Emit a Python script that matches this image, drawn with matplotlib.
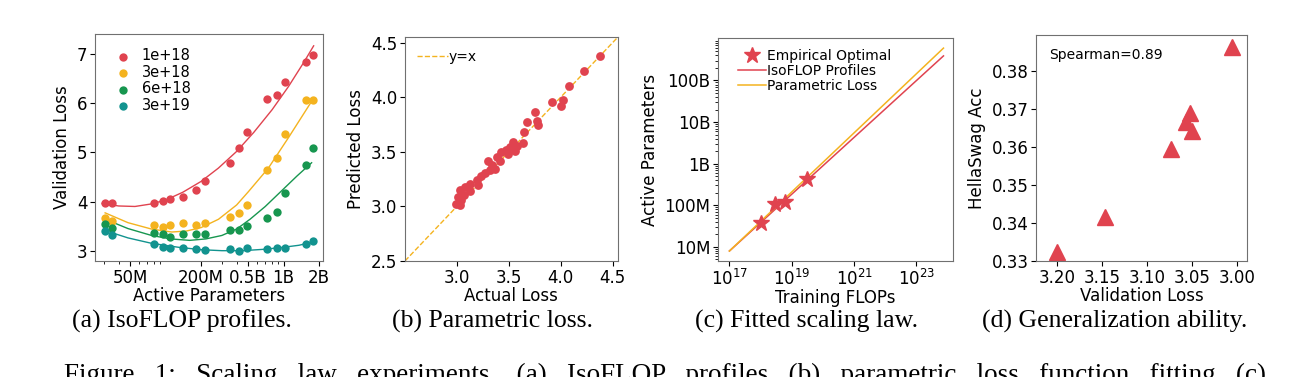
import matplotlib.pyplot as plt
import numpy as np

plt.rcParams['font.family'] = 'DejaVu Sans'
plt.rcParams['axes.edgecolor'] = '#707070'

red = '#E0434F'
yellow = '#F4B31F'
green = '#17964F'
teal = '#12938F'

# (a) IsoFLOP profiles
budgets = ['1e+18', '3e+18', '6e+18', '3e+19']
colors_a = [red, yellow, green, teal]
params = [30.9e6, 35e6, 79e6, 95e6, 110e6, 141e6, 180e6, 214e6,
          350e6, 420e6, 486e6, 730e6, 880e6, 1.03e9, 1.56e9, 1.77e9]
loss_1e18 = [3.98, 3.97, 3.98, 4.02, 4.05, 4.10, 4.24, 4.41,
             4.78, 5.10, 5.42, 6.08, 6.16, 6.44, 6.84, 6.99]
loss_3e18 = [3.66, 3.61, 3.52, 3.48, 3.52, 3.57, 3.52, 3.57,
             3.69, 3.77, 3.92, 4.64, 4.89, 5.37, 6.06, 6.06]
loss_6e18 = [3.54, 3.47, 3.37, 3.33, 3.27, 3.33, 3.33, 3.33,
             3.43, 3.43, 3.50, 3.66, 3.79, 4.17, 4.75, 5.09]
loss_3e19 = [3.40, 3.31, 3.14, 3.08, 3.05, 3.06, 3.03, 3.01,
             3.03, 3.00, 3.05, 3.04, 3.06, 3.05, 3.14, 3.20]

fit_x_1e18 = [29e6, 40e6, 55e6, 75e6, 100e6, 140e6, 200e6, 280e6, 400e6, 560e6, 800e6, 1.1e9, 1.5e9, 1.8e9]
fit_y_1e18 = [3.96, 3.91, 3.90, 3.95, 4.03, 4.19, 4.41, 4.68, 5.02, 5.41, 5.87, 6.34, 6.85, 7.17]
fit_x_3e18 = [30.7e6, 48e6, 76e6, 113e6, 150e6, 200e6, 281e6, 400e6, 503e6, 743e6, 1.1e9, 1.73e9]
fit_y_3e18 = [3.77, 3.57, 3.44, 3.38, 3.40, 3.47, 3.64, 3.93, 4.20, 4.68, 5.30, 6.04]
fit_x_6e18 = [30.7e6, 48e6, 76e6, 110e6, 160e6, 220e6, 300e6, 400e6, 520e6, 700e6, 964e6, 1.3e9, 1.73e9]
fit_y_6e18 = [3.64, 3.45, 3.31, 3.24, 3.21, 3.24, 3.31, 3.44, 3.64, 3.90, 4.22, 4.52, 4.79]
fit_x_3e19 = [30.7e6, 48e6, 76e6, 128e6, 200e6, 300e6, 450e6, 700e6, 1.0e9, 1.35e9, 1.73e9]
fit_y_3e19 = [3.41, 3.26, 3.15, 3.07, 3.02, 3.00, 3.00, 3.03, 3.07, 3.11, 3.17]

# (b) Parametric loss
actual = [4.375, 4.221, 4.078, 3.911, 4.023, 4.001, 3.748, 3.671, 3.767, 3.783,
          3.649, 3.544, 3.639, 3.582, 3.512, 3.560, 3.470, 3.496, 3.426, 3.390,
          3.412, 3.297, 3.336, 3.368, 3.314, 3.272, 3.234, 3.192, 3.201, 3.128,
          3.074, 3.128, 3.033, 3.064, 3.010, 3.042, 2.990, 3.029]
predicted = [4.379, 4.242, 4.101, 3.958, 3.974, 3.919, 3.867, 3.776, 3.785, 3.746,
             3.678, 3.593, 3.581, 3.557, 3.548, 3.511, 3.520, 3.480, 3.495, 3.450,
             3.413, 3.413, 3.380, 3.344, 3.335, 3.307, 3.274, 3.243, 3.200, 3.207,
             3.176, 3.139, 3.146, 3.100, 3.090, 3.054, 3.024, 3.009]

# (c) Fitted scaling law
opt_flops = [1e18, 3e18, 6e18, 3.2e19]
opt_params = [3.8e7, 1.05e8, 1.2e8, 4.4e8]
line_flops = [1e17, 7.4e23]
isoflop_params = [8e6, 3.9e11]
parametric_params = [8e6, 6.0e11]

# (d) Generalization ability
val_loss = [3.200, 3.146, 3.073, 3.057, 3.052, 3.050, 3.006]
hellaswag = [0.3323, 0.3415, 0.3595, 0.3666, 0.3689, 0.3641, 0.3863]

fig = plt.figure(figsize=(13.05, 3.77), dpi=100)
ax1 = fig.add_axes([0.0728, 0.3077, 0.1747, 0.602])
ax2 = fig.add_axes([0.3103, 0.3077, 0.1632, 0.594])
ax3 = fig.add_axes([0.5502, 0.3077, 0.1801, 0.5915])
ax4 = fig.add_axes([0.7939, 0.3077, 0.1617, 0.5995])

tick_fs = 12
label_fs = 12

# panel a
losses = [loss_1e18, loss_3e18, loss_6e18, loss_3e19]
fits = [(fit_x_1e18, fit_y_1e18), (fit_x_3e18, fit_y_3e18),
        (fit_x_6e18, fit_y_6e18), (fit_x_3e19, fit_y_3e19)]
for lab, c, ys, (fx, fy) in zip(budgets, colors_a, losses, fits):
    ax1.scatter(params, ys, s=36, color=c, label=lab, zorder=3, linewidths=0)
    ax1.plot(fx, fy, color=c, lw=1.0)
ax1.set_xscale('log')
ax1.set_xlim(25.2e6, 2.16e9)
ax1.set_ylim(2.79, 7.41)
ax1.set_xticks([5e7, 2e8, 5e8, 1e9, 2e9], ['50M', '200M', '0.5B', '1B', '2B'])
ax1.set_yticks([3, 4, 5, 6, 7])
ax1.set_xlabel('Active Parameters', fontsize=label_fs, labelpad=0)
ax1.set_ylabel('Validation Loss', fontsize=label_fs)
ax1.legend(loc='upper left', frameon=False, fontsize=10.5, handletextpad=0.3,
           labelspacing=0.1, borderaxespad=0.2, bbox_to_anchor=(0.02, 0.975))

# panel b
ax2.scatter(actual, predicted, s=40, color=red, linewidths=0, zorder=3)
ax2.plot([2.5, 4.55], [2.5, 4.55], ls='--', color=yellow, lw=1.0, label='y=x')
ax2.set_xlim(2.5, 4.55)
ax2.set_ylim(2.5, 4.55)
ax2.set_xticks([3.0, 3.5, 4.0, 4.5])
ax2.set_yticks([2.5, 3.0, 3.5, 4.0, 4.5])
ax2.set_xlabel('Actual Loss', fontsize=label_fs, labelpad=0)
ax2.set_ylabel('Predicted Loss', fontsize=label_fs)
ax2.legend(loc='upper left', frameon=False, fontsize=10, handlelength=2.2,
           handletextpad=0.05)

# panel c
ax3.plot(opt_flops, opt_params, ls='none', marker='*', markersize=12,
         color=red, label='Empirical Optimal', zorder=3)
ax3.plot(line_flops, isoflop_params, color=red, lw=1.1, label='IsoFLOP Profiles')
ax3.plot(line_flops, parametric_params, color=yellow, lw=1.1, label='Parametric Loss')
ax3.set_xscale('log')
ax3.set_yscale('log')
ax3.set_xlim(4.3e16, 1.5e24)
ax3.set_ylim(4.6e6, 1.05e12)
ax3.set_xticks([1e17, 1e19, 1e21, 1e23])
ax3.set_yticks([1e7, 1e8, 1e9, 1e10, 1e11], ['10M', '100M', '1B', '10B', '100B'])
ax3.set_xlabel('Training FLOPs', fontsize=label_fs, labelpad=0)
ax3.set_ylabel('Active Parameters', fontsize=label_fs)
ax3.legend(loc='upper left', frameon=False, fontsize=10, handletextpad=0.1,
           labelspacing=0.1, bbox_to_anchor=(0.05, 0.99), borderaxespad=0.2)

# panel d
ax4.plot(val_loss, hellaswag, ls='none', marker='^', markersize=11, color=red)
ax4.set_xlim(3.223, 2.989)
ax4.set_ylim(0.33, 0.3895)
ax4.set_xticks([3.20, 3.15, 3.10, 3.05, 3.00])
ax4.set_yticks([0.33, 0.34, 0.35, 0.36, 0.37, 0.38])
ax4.set_xlabel('Validation Loss', fontsize=label_fs, labelpad=0)
ax4.set_ylabel('HellaSwag Acc', fontsize=label_fs)
ax4.text(0.06, 0.91, 'Spearman=0.89', transform=ax4.transAxes, fontsize=10,
         va='center')

for ax in (ax1, ax2, ax3, ax4):
    ax.tick_params(labelsize=tick_fs, pad=2)

captions = ['(a) IsoFLOP profiles.', '(b) Parametric loss.',
            '(c) Fitted scaling law.', '(d) Generalization ability.']
cap_x = [182, 492, 807, 1115]
for cx, cap in zip(cap_x, captions):
    fig.text(cx / 1305, 1 - 321 / 377, cap, ha='center', va='center',
             family='Liberation Serif', fontsize=18.5)

caption_words = ['Figure', '1:', 'Scaling', 'law', 'experiments.', '(a)', 'IsoFLOP',
                 'profiles', '(b)', 'parametric', 'loss', 'function', 'fitting', '(c)']
fig.text(64 / 1305, 1 - 363 / 377, '   '.join(caption_words),
         ha='left', va='top', family='Liberation Serif', fontsize=19.5)

fig.savefig('out.png', dpi=100)
